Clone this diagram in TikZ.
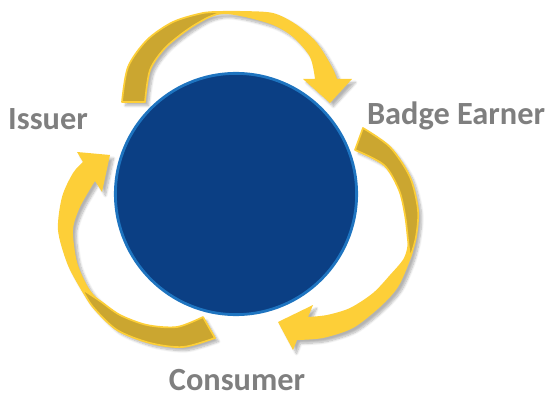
\documentclass[tikz,border=0pt]{standalone}
\usepackage{fontspec}
\setsansfont{Carlito}
\usetikzlibrary{shadows.blur}
\definecolor{hubblue}{HTML}{0B3F84}
\definecolor{hubrim}{HTML}{1E74C0}
\definecolor{ribbon}{HTML}{FDCF38}
\definecolor{ribbondark}{HTML}{CBA630}
\definecolor{rolegray}{HTML}{7F7F7F}
\begin{document}
\begin{tikzpicture}[x=0.025cm, y=-0.025cm, font=\sffamily\bfseries\fontsize{23}{26}\selectfont,
role/.style={text=rolegray, anchor=base, inner sep=0pt},
hub/.style={circle, fill=hubblue, draw=hubrim, line width=2pt, minimum size=6.03cm, inner sep=0pt},
front/.style={fill=ribbon, blur shadow={shadow xshift=2.5pt, shadow yshift=-2.5pt, shadow opacity=30, shadow blur steps=8}},
back/.style={fill=ribbondark, draw=ribbon, line width=1.2pt, line join=round}]
\useasboundingbox (0,0) rectangle (547,394);
\node[hub] (hub) at (236,194) {};
\node[role] (issuer) at (48,130) {Issuer};
\node[role] (earner) at (456,125) {Badge Earner};
\node[role] (consumer) at (237,390) {Consumer};
\path[front] plot[smooth] coordinates {(122,102) (128,67) (147,40) (173,22) (203,13) (223,11) (240,11) (273,13) (297,25) (317,43) (332,67) (337,79)}
  -- (352,79) -- (330,103) -- (303,79)
  -- plot[smooth] coordinates {(315,79) (310,57) (293,37) (273,25) (245,17) (224,14) (207,18) (187,30) (165,48) (150,70) (145,102)} -- cycle;
\path[back] plot[smooth] coordinates {(122,102) (128,67) (147,40) (173,22) (203,13) (223,12)}
  -- plot[smooth] coordinates {(223,12) (207,18) (187,30) (165,48) (150,70) (145,102)} -- cycle;
\path[front] plot[smooth] coordinates {(363,128) (390,147) (410,177) (418,210) (416,237) (410,260) (398,287) (380,307) (353,328) (323,338) (297,340)}
  -- (293,350) -- (278,322) -- (313,305)
  -- plot[smooth] coordinates {(308,317) (327,315) (350,308) (373,293) (390,275) (404,258) (408,240) (405,215) (399,190) (384,165) (355,150)} -- cycle;
\path[back] plot[smooth] coordinates {(363,128) (390,147) (410,177) (418,210) (416,237) (410,258)}
  -- plot[smooth] coordinates {(410,258) (408,240) (405,215) (399,190) (384,165) (355,150)} -- cycle;
\path[front] plot[smooth] coordinates {(215,338) (183,347) (150,343) (117,330) (93,307) (80,288) (67,263) (58,230) (62,197) (73,173) (83,162)}
  -- (77,152) -- (110,155) -- (102,192)
  -- plot[smooth] coordinates {(95,181) (80,207) (73,230) (77,262) (88,287) (100,301) (120,315) (147,325) (177,327) (203,317)} -- cycle;
\path[back] plot[smooth] coordinates {(215,338) (183,347) (150,343) (117,330) (93,307) (82,289)}
  -- plot[smooth] coordinates {(82,289) (100,301) (120,315) (147,325) (177,327) (203,317)} -- cycle;
\end{tikzpicture}
\end{document}
